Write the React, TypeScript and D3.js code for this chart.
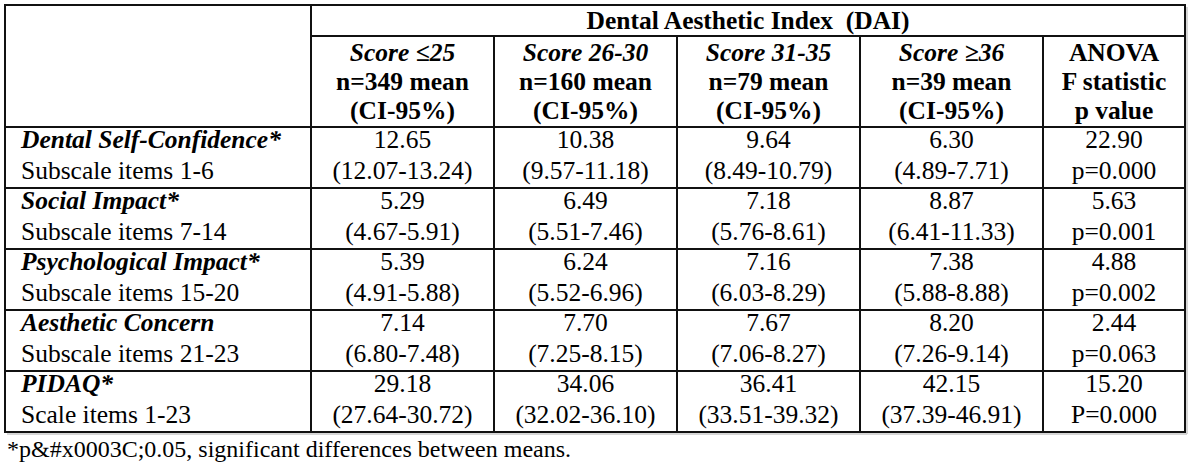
import React from "react";
import * as d3 from "d3";

const title = "Dental Aesthetic Index  (DAI)";
const groupScores = ["Score \u226425", "Score 26-30", "Score 31-35", "Score \u226536"];
const groupN = ["n=349 mean", "n=160 mean", "n=79 mean", "n=39 mean"];
const ciLabel = "(CI-95%)";
const anovaHeader = ["ANOVA", "F statistic", "p value"];

const rowLabels = ["Dental Self-Confidence*", "Social Impact*", "Psychological Impact*", "Aesthetic Concern", "PIDAQ*"];
const rowSubLabels = ["Subscale items 1-6", "Subscale items 7-14", "Subscale items 15-20", "Subscale items 21-23", "Scale items 1-23"];

const means = [
  ["12.65", "10.38", "9.64", "6.30"],
  ["5.29", "6.49", "7.18", "8.87"],
  ["5.39", "6.24", "7.16", "7.38"],
  ["7.14", "7.70", "7.67", "8.20"],
  ["29.18", "34.06", "36.41", "42.15"],
];
const cis = [
  ["(12.07-13.24)", "(9.57-11.18)", "(8.49-10.79)", "(4.89-7.71)"],
  ["(4.67-5.91)", "(5.51-7.46)", "(5.76-8.61)", "(6.41-11.33)"],
  ["(4.91-5.88)", "(5.52-6.96)", "(6.03-8.29)", "(5.88-8.88)"],
  ["(6.80-7.48)", "(7.25-8.15)", "(7.06-8.27)", "(7.26-9.14)"],
  ["(27.64-30.72)", "(32.02-36.10)", "(33.51-39.32)", "(37.39-46.91)"],
];
const fStats = ["22.90", "5.63", "4.88", "2.44", "15.20"];
const pValues = ["p=0.000", "p=0.001", "p=0.002", "p=0.063", "P=0.000"];
const footnote = "*p&#x0003C;0.05, significant differences between means.";

// layout
const W = 1200, H = 471;
const L = 5, R = 1185, T = 5, TITLE_B = 36, HEAD_B = 127, B = 432;
const C1 = 311, C5 = 1043;
const FONT = "Liberation Serif, Times New Roman, Tinos, DejaVu Serif, serif";
const FS = 25.5;
const LABEL_X = 21;

export default function App() {
  const x = d3.scaleBand<string>().domain(groupScores).range([C1, C5]);
  const y = d3.scaleBand<string>().domain(rowLabels).range([HEAD_B, B]);
  const anovaCx = (C5 + R) / 2;
  const headerLines = [61, 90, 119];
  const lineColor = "#111";
  const sw = 2;

  return (
    <svg width={W} height={H} style={{ position: "absolute", left: 0, top: 0, display: "block", background: "#fff", fontFamily: FONT, fontSize: FS }}>
      <rect x={0} y={0} width={W} height={H} fill="#fff" />
      <text x={(C1 + R) / 2} y={29} textAnchor="middle" fontWeight="bold" style={{ whiteSpace: "pre" }}>{title}</text>
      {groupScores.map((g, i) => {
        const cx = (x(g) as number) + x.bandwidth() / 2;
        return (
          <g key={g}>
            <text x={cx} y={headerLines[0]} textAnchor="middle" fontWeight="bold" fontStyle="italic">{g}</text>
            <text x={cx} y={headerLines[1]} textAnchor="middle" fontWeight="bold">{groupN[i]}</text>
            <text x={cx} y={headerLines[2]} textAnchor="middle" fontWeight="bold">{ciLabel}</text>
          </g>
        );
      })}
      {anovaHeader.map((t, i) => (
        <text key={t} x={anovaCx} y={headerLines[i]} textAnchor="middle" fontWeight="bold">{t}</text>
      ))}
      {rowLabels.map((r, ri) => {
        const top = y(r) as number;
        return (
          <g key={r}>
            <text x={LABEL_X} y={top + 21} fontWeight="bold" fontStyle="italic">{r}</text>
            <text x={LABEL_X} y={top + 52}>{rowSubLabels[ri]}</text>
            {groupScores.map((g, gi) => {
              const cx = (x(g) as number) + x.bandwidth() / 2;
              return (
                <g key={g}>
                  <text x={cx} y={top + 21} textAnchor="middle">{means[ri][gi]}</text>
                  <text x={cx} y={top + 52} textAnchor="middle">{cis[ri][gi]}</text>
                </g>
              );
            })}
            <text x={anovaCx} y={top + 21} textAnchor="middle">{fStats[ri]}</text>
            <text x={anovaCx} y={top + 52} textAnchor="middle">{pValues[ri]}</text>
          </g>
        );
      })}
      <g stroke="#c8c8c8" strokeWidth={1.5} fill="none">
        <line x1={R + 2} x2={R + 2} y1={T + 2} y2={B + 2} />
        <line x1={L + 2} x2={R + 2} y1={B + 2} y2={B + 2} />
      </g>
      <g stroke={lineColor} strokeWidth={sw} fill="none">
        <rect x={L} y={T} width={R - L} height={B - T} />
        <line x1={C1} x2={R} y1={TITLE_B} y2={TITLE_B} />
        <line x1={L} x2={R} y1={HEAD_B} y2={HEAD_B} />
        {rowLabels.slice(1).map((r) => (
          <line key={r} x1={L} x2={R} y1={y(r) as number} y2={y(r) as number} />
        ))}
        <line x1={C1} x2={C1} y1={T} y2={B} />
        {groupScores.slice(1).map((g) => (
          <line key={g} x1={x(g) as number} x2={x(g) as number} y1={TITLE_B} y2={B} />
        ))}
        <line x1={C5} x2={C5} y1={TITLE_B} y2={B} />
      </g>
      <text x={7} y={457} style={{ fontSize: 24 }}>{footnote}</text>
    </svg>
  );
}
